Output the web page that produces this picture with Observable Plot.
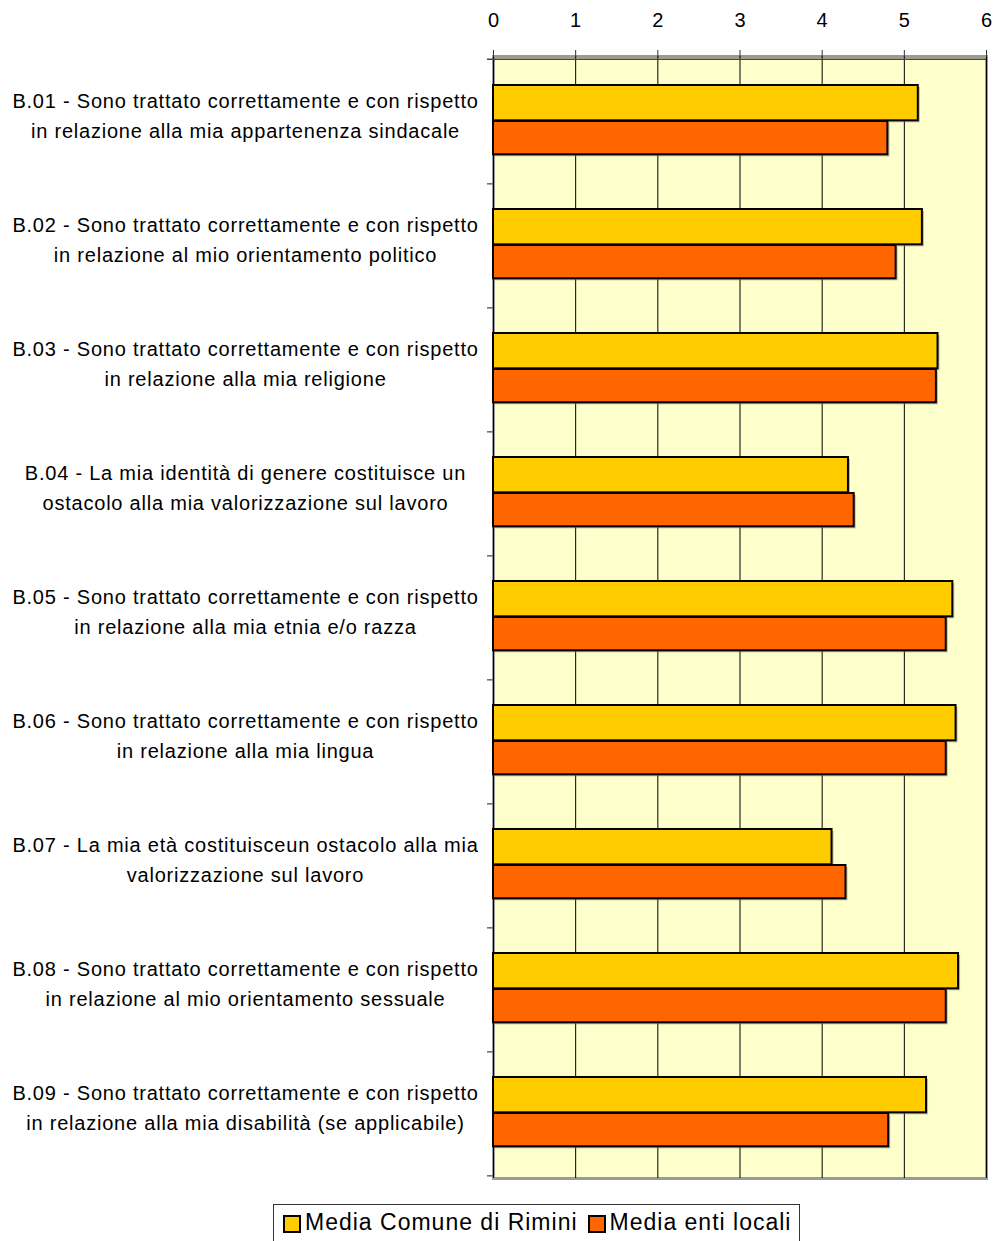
<!DOCTYPE html>
<html>
<head>
<meta charset="utf-8">
<script src="https://cdn.jsdelivr.net/npm/d3@7"></script>
<script src="https://cdn.jsdelivr.net/npm/@observablehq/plot@0.6"></script>
<style>
  body { margin: 0; background: #fff; font-family: "Liberation Sans", Arial, sans-serif; }
  #legend { position: absolute; left: 273px; top: 1204px; width: 527px; height: 44px; border: 1px solid #333; box-sizing: border-box; display: flex; align-items: flex-start; padding-top: 4px; padding-left: 9px; font-size: 23px; letter-spacing: 1px; color: #000; }
  .item { display: flex; align-items: center; margin-right: 10px; white-space: nowrap; }
  .sw { width: 14px; height: 14px; border: 2px solid #000; margin-right: 4px; margin-top: 3px; }
  g[aria-label="text"] text { letter-spacing: 0.78px; }
</style>
</head>
<body>
<div id="chart"></div>
<div id="legend"></div>
<script>
const categories = ["B.01", "B.02", "B.03", "B.04", "B.05", "B.06", "B.07", "B.08", "B.09"];
const labels = [
  "B.01 - Sono trattato correttamente e con rispetto\nin relazione alla mia appartenenza sindacale",
  "B.02 - Sono trattato correttamente e con rispetto\nin relazione al mio orientamento politico",
  "B.03 - Sono trattato correttamente e con rispetto\nin relazione alla mia religione",
  "B.04 - La mia identità di genere costituisce un\nostacolo alla mia valorizzazione sul lavoro",
  "B.05 - Sono trattato correttamente e con rispetto\nin relazione alla mia etnia e/o razza",
  "B.06 - Sono trattato correttamente e con rispetto\nin relazione alla mia lingua",
  "B.07 - La mia età costituisceun ostacolo alla mia\nvalorizzazione sul lavoro",
  "B.08 - Sono trattato correttamente e con rispetto\nin relazione al mio orientamento sessuale",
  "B.09 - Sono trattato correttamente e con rispetto\nin relazione alla mia disabilità (se applicabile)"
];
const mediaRimini = [5.17, 5.22, 5.41, 4.32, 5.59, 5.63, 4.12, 5.66, 5.27];
const mediaEnti   = [4.80, 4.90, 5.39, 4.39, 5.51, 5.51, 4.29, 5.51, 4.81];
const seriesNames = ["Media Comune di Rimini", "Media enti locali"];
const seriesColors = ["#FFCC00", "#FF6600"];
const xTicks = [0, 1, 2, 3, 4, 5, 6];

const W = 997, H = 1195, mTop = 56, mBottom = 17, mLeft = 493, mRight = 11;
const step = (H - mTop - mBottom) / categories.length;

const rows = categories.map((c, i) => ({cat: c, label: labels[i], rimini: mediaRimini[i], enti: mediaEnti[i]}));

const yellowInsetTop = 26, yellowInsetBottom = step - 62;
const orangeInsetTop = 62, orangeInsetBottom = step - 96;

const barStyle = {stroke: "#000", strokeWidth: 2};

const plot = Plot.plot({
  width: W, height: H,
  marginTop: mTop, marginBottom: mBottom, marginLeft: mLeft, marginRight: mRight,
  style: {fontFamily: "Liberation Sans, Arial, sans-serif", fontSize: "20px", background: "transparent", color: "#000"},
  x: {domain: [0, 6], axis: null},
  y: {domain: categories, padding: 0, axis: null},
  marks: [
    Plot.frame({fill: "#FFFFCC", stroke: "#9a9a9a", strokeWidth: 3}),
    Plot.ruleX(xTicks, {stroke: "#000", strokeWidth: 1}),
    Plot.axisX(xTicks, {anchor: "top", tickSize: 7, tickPadding: 23, fontSize: 20, stroke: "#333", tickFormat: d => String(d)}),
    Plot.ruleY([categories[0]], {y: d => d, x1: 0, x2: 6, insetLeft: -6, dy: -step / 2, stroke: "#444", strokeWidth: 1.5}),
    Plot.ruleY(categories, {y: d => d, x1: 0, x2: 0, insetLeft: -6, dy: step / 2, stroke: "#666", strokeWidth: 1.5}),
    // shadows
    Plot.barX(rows, {y: "cat", x: "rimini", insetTop: yellowInsetTop, insetBottom: yellowInsetBottom, fill: "#777", opacity: 0.5, dx: 2, dy: 2}),
    Plot.barX(rows, {y: "cat", x: "enti", insetTop: orangeInsetTop, insetBottom: orangeInsetBottom, fill: "#777", opacity: 0.5, dx: 2, dy: 2}),
    Plot.barX(rows, {y: "cat", x: "rimini", insetTop: yellowInsetTop, insetBottom: yellowInsetBottom, fill: seriesColors[0], ...barStyle}),
    Plot.barX(rows, {y: "cat", x: "enti", insetTop: orangeInsetTop, insetBottom: orangeInsetBottom, fill: seriesColors[1], ...barStyle}),
    Plot.text(rows, {y: "cat", text: "label", frameAnchor: "left", dx: 245 - mLeft, dy: -8, textAnchor: "middle", lineHeight: 1.5, fontSize: 20, fill: "#000"})
  ]
});
document.getElementById("chart").appendChild(plot);

const legend = document.getElementById("legend");
seriesNames.forEach((n, i) => {
  const it = document.createElement("div");
  it.className = "item";
  const sw = document.createElement("div");
  sw.className = "sw";
  sw.style.background = seriesColors[i];
  const t = document.createElement("span");
  t.textContent = n;
  it.appendChild(sw); it.appendChild(t);
  legend.appendChild(it);
});
</script>
</body>
</html>
